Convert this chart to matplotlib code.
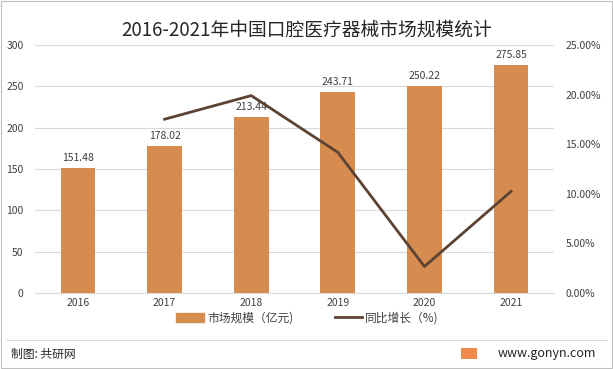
import matplotlib.pyplot as plt
from matplotlib.patches import Rectangle
from matplotlib.lines import Line2D

plt.rcParams['font.family'] = ['Noto Sans CJK SC', 'DejaVu Sans']

years = ['2016', '2017', '2018', '2019', '2020', '2021']
market_size = [151.48, 178.02, 213.44, 243.71, 250.22, 275.85]
growth_years = ['2017', '2018', '2019', '2020', '2021']
growth_pct = [17.52, 19.90, 14.18, 2.67, 10.24]

bar_color = '#D58C4E'
line_color = '#5C4232'
text_color = '#404040'

fig = plt.figure(figsize=(6.13, 3.69), dpi=100)
ax = fig.add_axes([0.0566, 0.206, 0.8477, 0.672])

x = list(range(len(years)))
ax.bar(x, market_size, width=0.4, color=bar_color, zorder=2)
for xi, v in zip(x, market_size):
    ax.text(xi, v + 6, f'{v:.2f}', ha='center', va='bottom', fontsize=7.5, color=text_color, zorder=4)

ax.set_xlim(-0.5, len(years) - 0.5)
ax.set_ylim(0, 300)
ax.set_yticks(range(0, 301, 50))
ax.set_xticks(x)
ax.set_xticklabels(years)
ax.grid(axis='y', color='#D9D9D9', linewidth=0.8, zorder=0)
ax.tick_params(axis='both', length=0, labelsize=7.5, colors=text_color)
ax.tick_params(axis='y', pad=8)
for s in ax.spines.values():
    s.set_visible(False)
ax.spines['bottom'].set_visible(True)
ax.spines['bottom'].set_color('#D9D9D9')

ax2 = ax.twinx()
gx = [years.index(y) for y in growth_years]
ax2.plot(gx, growth_pct, color=line_color, linewidth=2, zorder=3)
ax2.set_ylim(0, 25)
ax2.set_yticks(range(0, 26, 5))
ax2.set_yticklabels([f'{t:.2f}%' for t in range(0, 26, 5)])
ax2.tick_params(axis='y', length=0, labelsize=7.5, colors=text_color, pad=8)
for s in ax2.spines.values():
    s.set_visible(False)

fig.text(0.5, 0.918, '2016-2021年中国口腔医疗器械市场规模统计', ha='center', va='center',
         fontsize=13.5, color='#262626')

handles = [Rectangle((0, 0), 1, 1, color=bar_color),
           Line2D([0], [0], color=line_color, linewidth=2)]
fig.legend(handles, ['市场规模（亿元)', '同比增长（%)'], loc='center', bbox_to_anchor=(0.502, 0.138),
           ncol=2, frameon=False, fontsize=8.5, handlelength=2.3, columnspacing=3.5,
           handletextpad=0.3, labelcolor=text_color)

fig.add_artist(Line2D([0.01, 0.99], [0.079, 0.079], color='#D9D9D9', linewidth=0.8,
                      transform=fig.transFigure))
fig.add_artist(Rectangle((0.002, 0.003), 0.996, 0.994, fill=False, edgecolor='#BFBFBF',
                         linewidth=0.8, transform=fig.transFigure))
fig.text(0.018, 0.04, '制图: 共研网', ha='left', va='center', fontsize=8.5, color='#262626')
fig.text(0.973, 0.042, 'www.gonyn.com', ha='right', va='center', fontsize=9, color='#262626')
fig.add_artist(Rectangle((0.752, 0.027), 0.026, 0.03, facecolor='#F08A4B', edgecolor='none',
                         transform=fig.transFigure))

fig.savefig('out.png', dpi=100)
